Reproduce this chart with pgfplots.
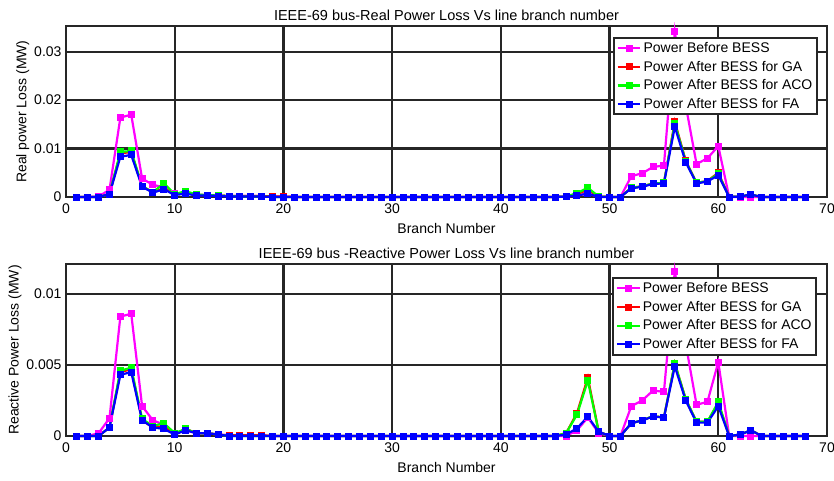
\documentclass[border=0pt]{standalone}
\usepackage{pgfplots}
\pgfplotsset{compat=1.18}
\usepackage{pgfplotstable}
\usepackage{fontspec}
\setmainfont{Liberation Sans}
\definecolor{mmag}{rgb}{1,0,1}
\definecolor{mred}{rgb}{1,0,0}
\definecolor{mgreen}{rgb}{0,1,0}
\definecolor{mblue}{rgb}{0,0,1}

\pgfplotstableread{
x pb ga aco fa
1 0 0 0 0
2 0 0 0 0
3 0.0001 0 0 0
4 0.0015 0.0006 0.0006 0.0006
5 0.0164 0.0090 0.0093 0.0083
6 0.0170 0.0093 0.0095 0.0087
7 0.0038 0.0022 0.0022 0.0021
8 0.0025 0.0010 0.0010 0.0009
9 0.0020 0.0018 0.0028 0.0016
10 0.0007 0.0005 0.0006 0.0004
11 0.0009 0.0009 0.0012 0.0007
12 0.0004 0.0004 0.0005 0.0003
13 0.0004 0.0004 0.0004 0.0003
14 0.0003 0.0003 0.0003 0.0002
15 0.0002 0.0002 0.0002 0.0001
16 0.0002 0.0002 0.0001 0.0001
17 0.0002 0.0002 0.0001 0.0001
18 0.0002 0.0002 0.0001 0.0001
19 0.0001 0.0001 0 0
20 0.0001 0.0001 0 0
21 0 0 0 0
22 0 0 0 0
23 0 0 0 0
24 0 0 0 0
25 0 0 0 0
26 0 0 0 0
27 0 0 0 0
28 0 0 0 0
29 0 0 0 0
30 0 0 0 0
31 0 0 0 0
32 0 0 0 0
33 0 0 0 0
34 0 0 0 0
35 0 0 0 0
36 0 0 0 0
37 0 0 0 0
38 0 0 0 0
39 0 0 0 0
40 0 0 0 0
41 0 0 0 0
42 0 0 0 0
43 0 0 0 0
44 0 0 0 0
45 0 0 0 0
46 0.0001 0.0001 0.0001 0.0001
47 0.0003 0.0006 0.0008 0.0003
48 0.0007 0.0015 0.0019 0.0007
49 0.0001 0.0001 0.0001 0
50 0 0 0 0
51 0 0 0 0
52 0.0043 0.0019 0.0019 0.0018
53 0.0049 0.0022 0.0022 0.0021
54 0.0062 0.0028 0.0028 0.0027
55 0.0065 0.0029 0.0029 0.0028
56 0.0341 0.0155 0.0152 0.0145
57 0.0190 0.0075 0.0074 0.0072
58 0.0068 0.0029 0.0029 0.0028
59 0.0080 0.0033 0.0033 0.0032
60 0.0105 0.0050 0.0048 0.0045
61 0 0 0 0
62 0 0.0001 0.0001 0.0001
63 0 0.0005 0.0005 0.0005
64 0 0 0 0
65 0 0 0 0
66 0 0 0 0
67 0 0 0 0
68 0 0 0 0
}\realloss

\pgfplotstableread{
x pb ga aco fa
1 0 0 0 0
2 0 0 0 0
3 0.0002 0 0 0
4 0.00125 0.0006 0.0006 0.0006
5 0.0084 0.0045 0.0046 0.0043
6 0.0086 0.0047 0.0048 0.0045
7 0.0021 0.0011 0.0012 0.0011
8 0.0011 0.0006 0.0007 0.0006
9 0.0008 0.0007 0.0009 0.0005
10 0.0002 0.0001 0.0002 0.0001
11 0.0004 0.0005 0.0005 0.0004
12 0.0002 0.0002 0.0002 0.0002
13 0.0002 0.0002 0.0002 0.0002
14 0.0001 0.0001 0.0001 0.0001
15 0.00005 0.00005 0 0
16 0.00005 0.00005 0 0
17 0.00005 0.00005 0 0
18 0.00005 0.00005 0 0
19 0 0 0 0
20 0 0 0 0
21 0 0 0 0
22 0 0 0 0
23 0 0 0 0
24 0 0 0 0
25 0 0 0 0
26 0 0 0 0
27 0 0 0 0
28 0 0 0 0
29 0 0 0 0
30 0 0 0 0
31 0 0 0 0
32 0 0 0 0
33 0 0 0 0
34 0 0 0 0
35 0 0 0 0
36 0 0 0 0
37 0 0 0 0
38 0 0 0 0
39 0 0 0 0
40 0 0 0 0
41 0 0 0 0
42 0 0 0 0
43 0 0 0 0
44 0 0 0 0
45 0 0 0 0
46 0 0.0002 0.0002 0.0001
47 0.0004 0.0016 0.0015 0.00054
48 0.0013 0.0041 0.0039 0.00136
49 0.0002 0.0003 0.0003 0.0003
50 0 0 0 0
51 0 0 0 0
52 0.0021 0.0009 0.0009 0.0009
53 0.0025 0.0011 0.0011 0.0011
54 0.0032 0.0014 0.0014 0.00137
55 0.0031 0.0013 0.0013 0.0013
56 0.0116 0.0051 0.0051 0.0049
57 0.0065 0.0026 0.0026 0.0025
58 0.0022 0.0010 0.0010 0.00094
59 0.0024 0.0010 0.0010 0.00094
60 0.0052 0.0023 0.0024 0.0021
61 0 0 0 0
62 0 0.0001 0.0001 0.0001
63 0 0.0004 0.0004 0.0004
64 0 0 0 0
65 0 0 0 0
66 0 0 0 0
67 0 0 0 0
68 0 0 0 0
}\reactloss

\pgfplotsset{
  myaxis/.style={
    scale only axis,
    width=761pt,
    xmin=0, xmax=70,
    ymin=0,
    xtick={0,10,...,70},
    grid=major,
    major grid style={line width=2.2pt, black!85},
    axis line style={line width=2.6pt, black!85},
    major tick length=0pt,
    font=\fontsize{14}{16}\selectfont,
    /pgf/number format/assume math mode=true,
    scaled y ticks=false,
    yticklabel style={/pgf/number format/fixed, /pgf/number format/precision=3, xshift=-1pt},
    xticklabel style={yshift=-3pt},
    clip=false,
    title style={yshift=-4pt, font=\fontsize{14.5}{16}\selectfont},
    xlabel style={yshift=-3pt},
    ylabel style={yshift=-2pt},
    legend style={anchor=north east, draw=black!85, line width=2pt, fill=white,
      font=\fontsize{14}{16}\selectfont, row sep=3pt, inner sep=2.5pt,
      cells={anchor=west}},
    legend image code/.code={\draw[mark repeat=2,mark phase=2] plot coordinates {(0cm,0cm) (0.4cm,0cm) (0.8cm,0cm)};},
    every axis plot/.append style={line width=2.2pt, mark=square*, mark size=2.4pt},
  }
}

\begin{document}
\begin{tikzpicture}
\useasboundingbox (0,0) rectangle (834pt,-481pt);
\begin{axis}[myaxis,
  at={(66pt,-26pt)}, anchor=north west,
  height=171pt,
  ymax=0.0353,
  ytick={0,0.01,0.02,0.03},
  title={IEEE-69 bus-Real Power Loss Vs line branch number},
  xlabel={Branch Number},
  ylabel={Real power Loss (MW)},
  legend style={at={(0.988,0.936)}},
]
\addplot[mmag, mark options={fill=mmag}] table[x=x,y=pb] {\realloss};
\addplot[mred, mark options={fill=mred}] table[x=x,y=ga] {\realloss};
\addplot[mgreen, mark options={fill=mgreen}] table[x=x,y=aco] {\realloss};
\addplot[mblue, mark options={fill=mblue}] table[x=x,y=fa] {\realloss};
\legend{Power Before BESS, Power After BESS for GA, Power After BESS for ACO, Power After BESS for FA}
\end{axis}
\begin{axis}[myaxis,
  at={(66pt,-264pt)}, anchor=north west,
  height=172pt,
  ymax=0.0121,
  ytick={0,0.005,0.01},
  title={IEEE-69 bus -Reactive Power Loss Vs line branch number},
  xlabel={Branch Number},
  ylabel={Reactive Power Loss (MW)},
  legend style={at={(0.987,0.924)}},
]
\addplot[mmag, mark options={fill=mmag}] table[x=x,y=pb] {\reactloss};
\addplot[mred, mark options={fill=mred}] table[x=x,y=ga] {\reactloss};
\addplot[mgreen, mark options={fill=mgreen}] table[x=x,y=aco] {\reactloss};
\addplot[mblue, mark options={fill=mblue}] table[x=x,y=fa] {\reactloss};
\legend{Power Before BESS, Power After BESS for GA, Power After BESS for ACO, Power After BESS for FA}
\end{axis}
\end{tikzpicture}
\end{document}
